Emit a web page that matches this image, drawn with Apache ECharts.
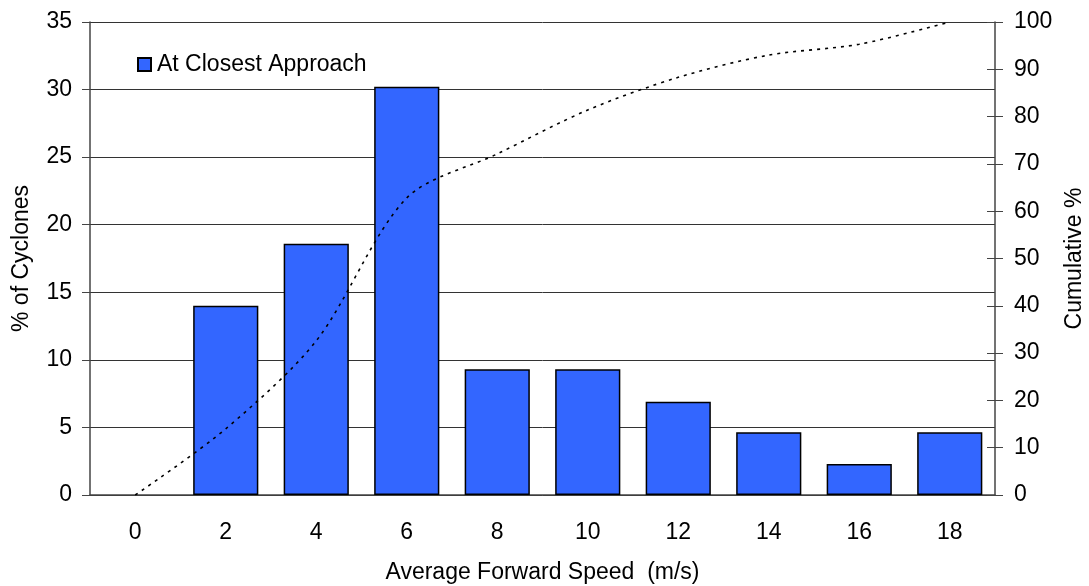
<!DOCTYPE html>
<html>
<head>
<meta charset="utf-8">
<script src="https://cdn.jsdelivr.net/npm/echarts@6/dist/echarts.min.js"></script>
<style>
html,body{margin:0;padding:0;background:#fff;}
#chart{width:1089px;height:586px;}
</style>
</head>
<body>
<div id="chart"></div>
<script>
var categories = ['0','2','4','6','8','10','12','14','16','18'];
var pctCyclones = [null, 14.0, 18.6, 30.2, 9.3, 9.3, 6.9, 4.65, 2.3, 4.65];
var cumulative = [0, 14.0, 32.6, 62.8, 72.1, 81.4, 88.3, 93.0, 95.3, 100];
var leftTicks = {min: 0, max: 35, interval: 5};
var rightTicks = {min: 0, max: 100, interval: 10};

var FONT = '"Liberation Sans", Arial, sans-serif';
var FS = 23;
var chart = echarts.init(document.getElementById('chart'));
chart.setOption({
  animation: false,
  backgroundColor: '#fff',
  textStyle: {fontFamily: FONT, color: '#000'},
  grid: {left: 90, right: 94, top: 22, bottom: 91, containLabel: false, outerBoundsMode: 'none'},
  legend: {
    data: ['At Closest Approach'],
    left: 137, top: 53, padding: 0,
    itemWidth: 13, itemHeight: 13, itemGap: 6,
    icon: 'rect',
    textStyle: {fontFamily: FONT, fontSize: FS, color: '#000', padding: [0,0,0,1]}
  },
  xAxis: {
    type: 'category',
    data: categories,
    name: 'Average Forward Speed  (m/s)',
    nameLocation: 'middle',
    nameGap: 66,
    nameTextStyle: {fontFamily: FONT, fontSize: FS, color: '#000'},
    axisLine: {lineStyle: {color: '#444', width: 1.5}},
    axisTick: {inside: true, length: 6, lineStyle: {color: '#444', width: 1}},
    axisLabel: {fontFamily: FONT, fontSize: FS, color: '#000', margin: 26},
    splitLine: {show: false}
  },
  yAxis: [
    {
      type: 'value',
      min: leftTicks.min, max: leftTicks.max, interval: leftTicks.interval,
      name: '% of Cyclones',
      nameLocation: 'middle',
      nameRotate: 90,
      nameGap: 57,
      nameTextStyle: {fontFamily: FONT, fontSize: FS, color: '#000'},
      axisLine: {show: true, lineStyle: {color: '#444', width: 1.5}},
      axisTick: {show: true, length: 8, lineStyle: {color: '#444', width: 1}},
      axisLabel: {fontFamily: FONT, fontSize: FS, color: '#000', margin: 18},
      splitLine: {show: true, lineStyle: {color: '#333', width: 1}}
    },
    {
      type: 'value',
      position: 'right',
      min: rightTicks.min, max: rightTicks.max, interval: rightTicks.interval,
      name: 'Cumulative %',
      nameLocation: 'middle',
      nameRotate: 90,
      nameGap: 68,
      nameTextStyle: {fontFamily: FONT, fontSize: FS, color: '#000'},
      axisLine: {show: true, lineStyle: {color: '#444', width: 1.5}},
      axisTick: {show: true, length: 8, lineStyle: {color: '#444', width: 1}},
      axisLabel: {fontFamily: FONT, fontSize: FS, color: '#000', margin: 19},
      splitLine: {show: false}
    },
    {
      type: 'value',
      position: 'right',
      min: rightTicks.min, max: rightTicks.max, interval: rightTicks.interval,
      axisLine: {show: false},
      axisTick: {show: true, inside: true, length: 8, lineStyle: {color: '#444', width: 1}},
      axisLabel: {show: false},
      splitLine: {show: false}
    }
  ],
  series: [
    {
      name: 'At Closest Approach',
      type: 'bar',
      data: pctCyclones,
      yAxisIndex: 0,
      barCategoryGap: '28%',
      itemStyle: {color: '#3366FF', borderColor: '#000', borderWidth: 1.5}
    },
    {
      name: 'Cumulative',
      type: 'line',
      data: cumulative,
      yAxisIndex: 1,
      smooth: 0.3,
      symbol: 'none',
      lineStyle: {color: '#000', width: 1.6, type: [3, 5]}
    }
  ]
});
</script>
</body>
</html>
